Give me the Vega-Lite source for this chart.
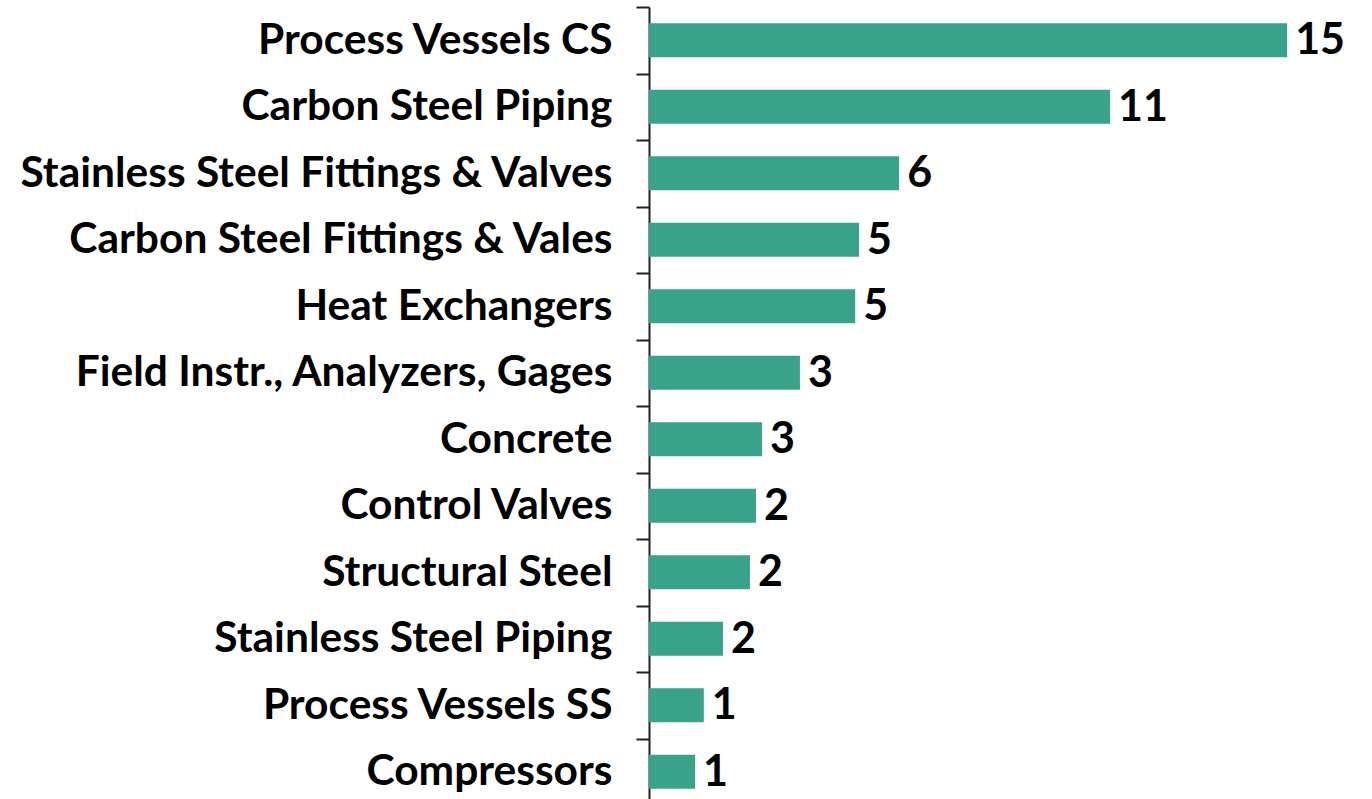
{
  "$schema": "https://vega.github.io/schema/vega-lite/v6.json",
  "autosize": {"type": "none"},
  "padding": {"left": 649, "top": 7, "right": 0, "bottom": 0},
  "width": 696,
  "height": 798,
  "background": "white",
  "data": {
    "values": [
      {"category": "Process Vessels CS\u00a0\u00a0\u00a0", "value": 14.67},
      {"category": "Carbon Steel Piping", "value": 10.6},
      {"category": "Stainless Steel Fittings & Valves", "value": 5.75},
      {"category": "Carbon Steel Fittings & Vales", "value": 4.83},
      {"category": "Heat Exchangers", "value": 4.74},
      {"category": "Field Instr., Analyzers, Gages", "value": 3.47},
      {"category": "Concrete", "value": 2.6},
      {"category": "Control Valves", "value": 2.46},
      {"category": "Structural Steel", "value": 2.32},
      {"category": "Stainless Steel Piping", "value": 1.7},
      {"category": "Process Vessels SS", "value": 1.26},
      {"category": "Compressors", "value": 1.06}
    ]
  },
  "encoding": {
    "y": {
      "field": "category",
      "type": "nominal",
      "sort": null,
      "scale": {"paddingInner": 0, "paddingOuter": 0},
      "axis": {
        "title": null,
        "domainColor": "#222222",
        "domainWidth": 2,
        "tickColor": "#222222",
        "tickWidth": 2,
        "tickSize": 13,
        "tickBand": "extent",
        "labelFont": "Lato",
        "labelFontWeight": "bold",
        "labelFontSize": 42.5,
        "labelColor": "black",
        "labelPadding": 24,
        "labelLimit": 700
      }
    },
    "x": {
      "field": "value",
      "type": "quantitative",
      "scale": {"domain": [0, 16]},
      "axis": null
    }
  },
  "layer": [
    {"mark": {"type": "bar", "color": "#38a28b", "height": {"band": 0.51}}},
    {
      "mark": {"type": "text", "align": "left", "baseline": "middle", "dx": 8, "dy": 1, "font": "Lato", "fontWeight": "bold", "fontSize": 43, "color": "black"},
      "encoding": {"text": {"field": "value", "type": "quantitative", "format": ".0f"}}
    }
  ],
  "config": {"view": {"stroke": null}}
}
